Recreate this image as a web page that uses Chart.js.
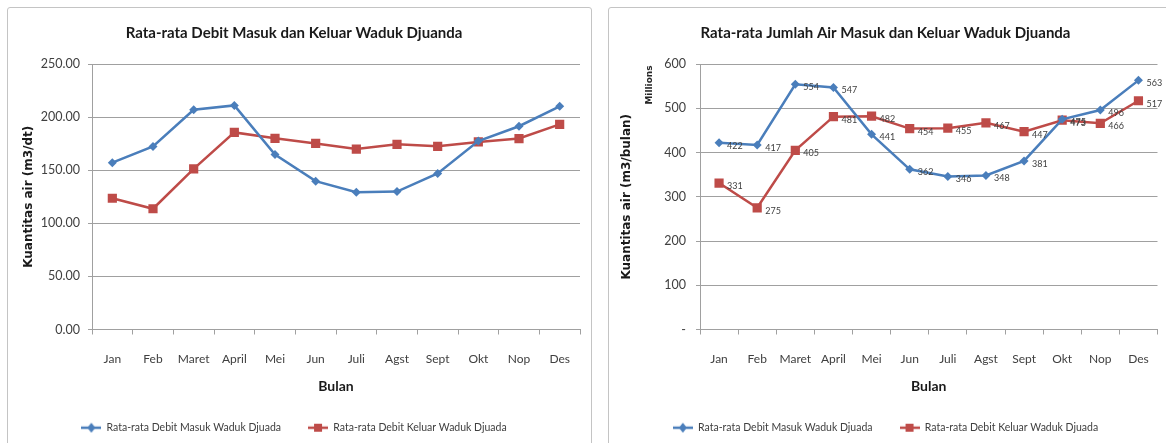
<!DOCTYPE html>
<html>
<head>
<meta charset="utf-8">
<script src="https://cdn.jsdelivr.net/npm/chart.js@4.4.1/dist/chart.umd.min.js"></script>
<style>
  html, body { margin: 0; padding: 0; background: #fff; width: 1166px; height: 443px; overflow: hidden; }
  .panel { position: absolute; top: 7px; height: 450px; border: 1px solid #c4c4c4; border-radius: 3px; background: #fff; }
  #panel-debit  { left: 7px; width: 583px; }
  #panel-jumlah { left: 608px; width: 580px; }
  .panel canvas { position: absolute; left: 0; top: 0; }
</style>
</head>
<body>
<div class="panel" id="panel-debit"><canvas id="chart-debit" width="583" height="435"></canvas></div>
<div class="panel" id="panel-jumlah"><canvas id="chart-jumlah" width="557" height="435"></canvas></div>
<script>
// ── Data ──────────────────────────────────────────────────────
const MONTHS = ['Jan','Feb','Maret','April','Mei','Jun','Juli','Agst','Sept','Okt','Nop','Des'];
const SERIES_NAMES = ['Rata-rata Debit Masuk Waduk Djuada', 'Rata-rata Debit Keluar Waduk Djuada'];

// average discharge, m3/dt
const debitMasuk  = [157.1, 172.4, 206.9, 211.0, 164.7, 139.7, 129.2, 129.9, 147.0, 177.4, 191.4, 210.2];
const debitKeluar = [123.6, 113.7, 151.2, 185.6, 180.0, 175.2, 169.9, 174.4, 172.5, 176.6, 179.8, 193.1];
const debitTicks  = ['0.00','50.00','100.00','150.00','200.00','250.00'];

// average monthly volume, millions m3/bulan
const jumlahMasuk  = [422, 417, 554, 547, 441, 362, 346, 348, 381, 475, 496, 563];
const jumlahKeluar = [331, 275, 405, 481, 482, 454, 455, 467, 447, 473, 466, 517];
const jumlahTicks  = ['-','100','200','300','400','500','600'];

const BLUE = '#4a7ebb';
const RED  = '#be4b48';
const GRID = '#a0a0a0';
const SANS = "Lato, 'Liberation Sans', sans-serif";
const WIDE = "'DejaVu Sans', 'Liberation Sans', sans-serif";

// ── Legend markers (line + marker, Excel style) ───────────────
function legendMarker(color, shape) {
    const c = document.createElement('canvas');
    c.width = 20; c.height = 12;
    const g = c.getContext('2d');
    g.strokeStyle = color; g.lineWidth = 2.5;
    g.beginPath(); g.moveTo(0, 6); g.lineTo(20, 6); g.stroke();
    g.fillStyle = color;
    g.beginPath();
    if (shape === 'diamond') { g.moveTo(10, 1); g.lineTo(14, 6); g.lineTo(10, 11); g.lineTo(6, 6); g.closePath(); }
    else g.rect(6, 2, 8, 8);
    g.fill();
    return c;
}
const MARKERS = [legendMarker(BLUE, 'diamond'), legendMarker(RED, 'square')];

// ── Plugins ───────────────────────────────────────────────────
const valueLabels = {
    id: 'valueLabels',
    afterDatasetsDraw(chart, args, opts) {
        if (!opts.show) return;
        const ctx = chart.ctx;
        ctx.save();
        ctx.font = '9px ' + SANS;
        ctx.fillStyle = '#404040';
        ctx.textAlign = 'left';
        ctx.textBaseline = 'middle';
        chart.data.datasets.forEach((ds, di) => {
            chart.getDatasetMeta(di).data.forEach((pt, i) => {
                ctx.fillText(String(ds.data[i]), pt.x + 8, pt.y + 3);
            });
        });
        ctx.restore();
    }
};

const unitLabel = {
    id: 'unitLabel',
    afterDraw(chart, args, opts) {
        if (!opts.text) return;
        const ctx = chart.ctx;
        ctx.save();
        ctx.translate(opts.x, opts.y);
        ctx.rotate(-Math.PI / 2);
        ctx.font = 'bold 9px ' + WIDE;
        ctx.fillStyle = '#262626';
        ctx.textAlign = 'center';
        ctx.textBaseline = 'middle';
        ctx.fillText(opts.text, 0, 0);
        ctx.restore();
    }
};

// ── Chart factory ─────────────────────────────────────────────
function makeChart(canvasId, cfg) {
    const ds = (label, data, color, style, radius) => ({
        label, data,
        borderColor: color, backgroundColor: color,
        borderWidth: 2.5, tension: 0,
        pointStyle: style, pointRadius: radius, pointHoverRadius: radius,
        pointBorderWidth: 0,
    });
    return new Chart(document.getElementById(canvasId), {
        type: 'line',
        data: {
            labels: MONTHS,
            datasets: [
                ds(SERIES_NAMES[0], cfg.masuk,  BLUE, 'rectRot', 4.5),
                ds(SERIES_NAMES[1], cfg.keluar, RED,  'rect',    6.5),
            ],
        },
        plugins: [valueLabels, unitLabel],
        options: {
            responsive: false, animation: false, events: [],
            layout: { padding: { left: 0, right: cfg.padRight, top: 0, bottom: 0 } },
            plugins: {
                title: {
                    display: true, text: cfg.title, color: '#1a1a1a',
                    font: { family: SANS, size: 15, weight: 'bold', lineHeight: 1.2 },
                    padding: { top: 16, bottom: 22 },
                },
                legend: {
                    position: 'bottom',
                    labels: {
                        usePointStyle: true, pointStyleWidth: 20,
                        color: '#404040', padding: 27,
                        font: { family: SANS, size: 10.5 },
                        generateLabels(chart) {
                            const items = Chart.defaults.plugins.legend.labels.generateLabels(chart);
                            items.forEach((it, i) => { it.pointStyle = MARKERS[i]; });
                            return items;
                        },
                    },
                },
                tooltip: { enabled: false },
                valueLabels: { show: cfg.showValues },
                unitLabel: cfg.unit,
            },
            scales: {
                x: {
                    offset: true,
                    grid: { offset: true, drawOnChartArea: false, drawTicks: true, tickLength: 5, color: GRID },
                    border: { color: GRID, width: 1 },
                    ticks: { color: '#404040', font: { family: SANS, size: 12 }, padding: 17, autoSkip: false, maxRotation: 0 },
                    title: {
                        display: true, text: 'Bulan', color: '#1a1a1a',
                        font: { family: SANS, size: 14, weight: 'bold' },
                        padding: { top: 0, bottom: 1 },
                    },
                    afterFit(scale) { scale.height = 66; },
                },
                y: {
                    min: 0, max: cfg.max,
                    ticks: {
                        stepSize: cfg.step, color: '#404040', padding: cfg.tickPad,
                        font: { family: SANS, size: 12.5 },
                        callback: (v, i) => cfg.ticks[i],
                    },
                    grid: { color: GRID, tickLength: 4, drawTicks: true },
                    border: { color: GRID, width: 1 },
                    title: {
                        display: true, text: cfg.yTitle, color: '#1a1a1a',
                        font: { family: WIDE, size: 12, weight: 'bold' },
                        padding: { top: cfg.yTitlePad, bottom: 0 },
                    },
                    afterFit(scale) { scale.width = cfg.axisWidth; },
                },
            },
        },
    });
}

makeChart('chart-debit', {
    title: 'Rata-rata Debit Masuk dan Keluar Waduk Djuanda',
    masuk: debitMasuk, keluar: debitKeluar,
    max: 250, step: 50, ticks: debitTicks,
    yTitle: 'Kuantitas air (m3/dt)', yTitlePad: 14,
    axisWidth: 84, padRight: 11, tickPad: 8,
    showValues: false, unit: { text: '' },
});

makeChart('chart-jumlah', {
    title: 'Rata-rata Jumlah Air Masuk dan Keluar Waduk Djuanda',
    masuk: jumlahMasuk, keluar: jumlahKeluar,
    max: 600, step: 100, ticks: jumlahTicks,
    yTitle: 'Kuantitas air (m3/bulan)', yTitlePad: 11,
    axisWidth: 91, padRight: 4, tickPad: 10,
    showValues: true, unit: { text: 'Millions', x: 41, y: 77 },
});
</script>
</body>
</html>
